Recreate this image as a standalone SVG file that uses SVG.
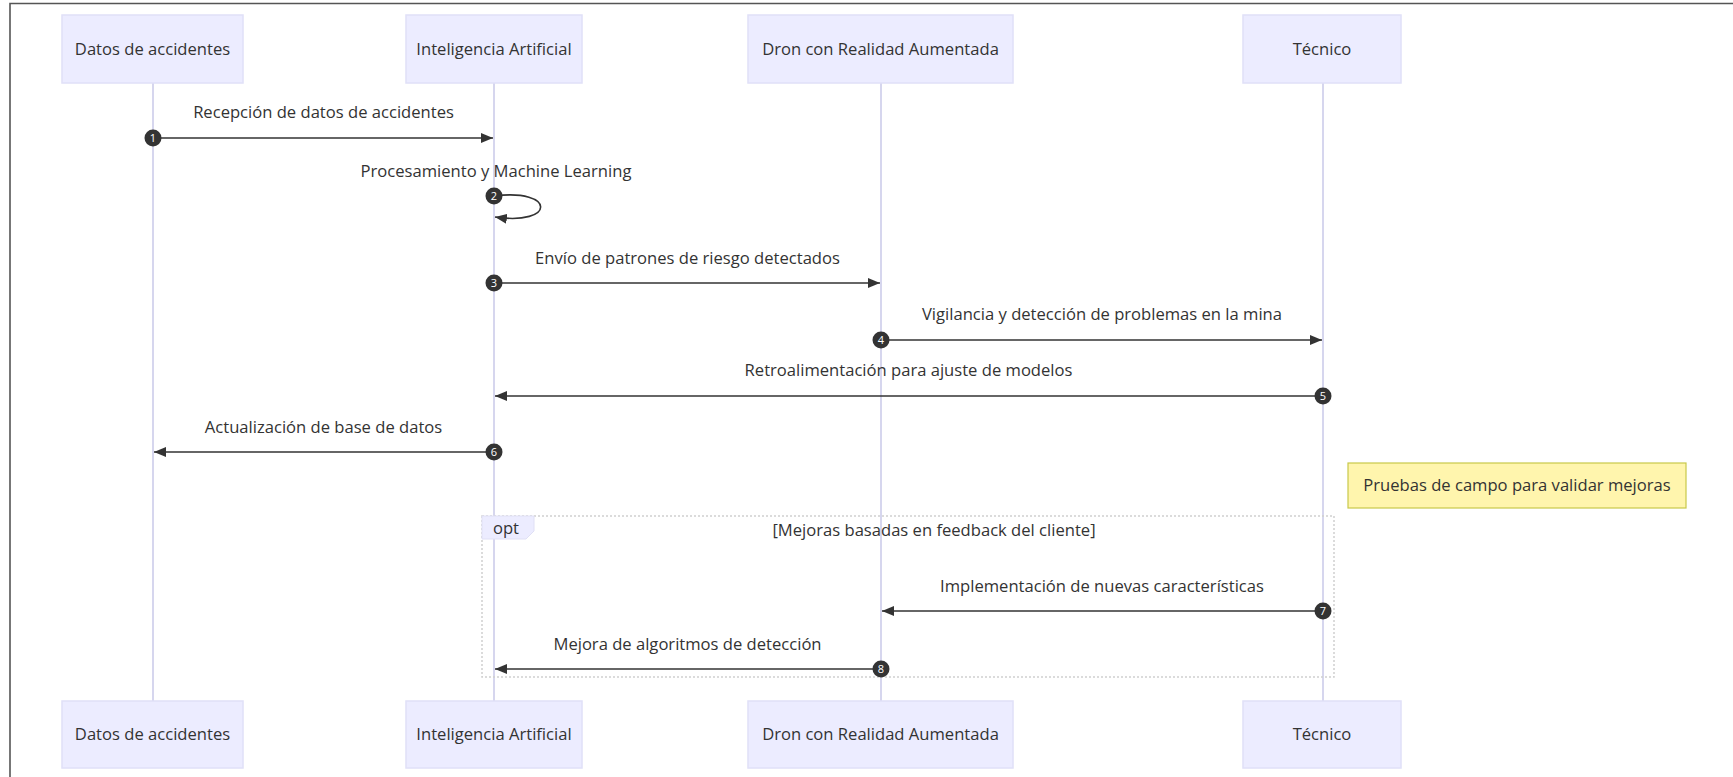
<svg xmlns="http://www.w3.org/2000/svg" width="1733" height="777" viewBox="0 0 1733 777">
<style>
.actor rect{fill:#ECECFF;stroke:#e0e0f8;stroke-width:1.5}
.actor text{font-family:"Open Sans","Noto Sans",sans-serif;font-size:16.6px;fill:#333;text-anchor:middle}
.life{stroke:#d6d6ee;stroke-width:2}
.msg{stroke:#333;stroke-width:1.6;fill:none}
.lbl{font-family:"Open Sans","Noto Sans",sans-serif;font-size:16.6px;fill:#333;text-anchor:middle}
.num circle{fill:#333}
.num text{font-family:"Open Sans","Noto Sans",sans-serif;font-size:11px;fill:#fff;text-anchor:middle}
</style>
<defs>
<marker id="ah" viewBox="0 0 12 10" refX="12" refY="5" markerWidth="12" markerHeight="10" markerUnits="userSpaceOnUse" orient="auto">
<path d="M0,0 L12,5 L0,10 z" fill="#333"/>
</marker>
</defs>
<rect width="1733" height="777" fill="#fff"/>
<path d="M10,778 V3.5 H1734" fill="none" stroke="#555" stroke-width="1.6"/>

<g id="lifelines">
<line class="life" x1="153" y1="83" x2="153" y2="701"/>
<line class="life" x1="494" y1="83" x2="494" y2="701"/>
<line class="life" x1="881" y1="83" x2="881" y2="701"/>
<line class="life" x1="1323" y1="83" x2="1323" y2="701"/>
</g>

<g id="actor-datos-top" class="actor"><rect x="62" y="15" width="181" height="68"/><text x="152.5" y="55">Datos de accidentes</text></g>
<g id="actor-ia-top" class="actor"><rect x="406" y="15" width="176" height="68"/><text x="494" y="55">Inteligencia Artificial</text></g>
<g id="actor-dron-top" class="actor"><rect x="748" y="15" width="265" height="68"/><text x="880.5" y="55">Dron con Realidad Aumentada</text></g>
<g id="actor-tecnico-top" class="actor"><rect x="1243" y="15" width="158" height="68"/><text x="1322" y="55">Técnico</text></g>

<g id="actor-datos-bottom" class="actor"><rect x="62" y="701" width="181" height="67"/><text x="152.5" y="740">Datos de accidentes</text></g>
<g id="actor-ia-bottom" class="actor"><rect x="406" y="701" width="176" height="67"/><text x="494" y="740">Inteligencia Artificial</text></g>
<g id="actor-dron-bottom" class="actor"><rect x="748" y="701" width="265" height="67"/><text x="880.5" y="740">Dron con Realidad Aumentada</text></g>
<g id="actor-tecnico-bottom" class="actor"><rect x="1243" y="701" width="158" height="67"/><text x="1322" y="740">Técnico</text></g>

<g id="note">
<rect x="1348" y="463" width="338" height="45" fill="#fff5ad" stroke="#c8c84a" stroke-width="1.2"/>
<text class="lbl" x="1517" y="491">Pruebas de campo para validar mejoras</text>
</g>

<g id="opt-fragment">
<rect x="482" y="516" width="852" height="161" fill="none" stroke="#d0d0d0" stroke-width="1.5" stroke-dasharray="2,2"/>
<polygon points="482,516 534,516 534,531 526,539 482,539" fill="#ECECFF" stroke="#e0e0f5" stroke-width="1"/>
<text class="lbl" x="506" y="534">opt</text>
<text class="lbl" x="934" y="536">[Mejoras basadas en feedback del cliente]</text>
</g>

<g id="connectors">
<text class="lbl" x="323.5" y="118">Recepción de datos de accidentes</text>
<line class="msg" x1="153" y1="138" x2="493" y2="138" marker-end="url(#ah)"/>

<text class="lbl" x="496" y="177">Procesamiento y Machine Learning</text>
<path class="msg" d="M494,196 C556,188 556,226 495,217" marker-end="url(#ah)"/>

<text class="lbl" x="687.5" y="264">Envío de patrones de riesgo detectados</text>
<line class="msg" x1="494" y1="283" x2="880" y2="283" marker-end="url(#ah)"/>

<text class="lbl" x="1102" y="320">Vigilancia y detección de problemas en la mina</text>
<line class="msg" x1="881" y1="340" x2="1322" y2="340" marker-end="url(#ah)"/>

<text class="lbl" x="908.5" y="376">Retroalimentación para ajuste de modelos</text>
<line class="msg" x1="1323" y1="396" x2="495" y2="396" marker-end="url(#ah)"/>

<text class="lbl" x="323.5" y="433">Actualización de base de datos</text>
<line class="msg" x1="494" y1="452" x2="154" y2="452" marker-end="url(#ah)"/>

<text class="lbl" x="1102" y="592">Implementación de nuevas características</text>
<line class="msg" x1="1323" y1="611" x2="882" y2="611" marker-end="url(#ah)"/>

<text class="lbl" x="687.5" y="650">Mejora de algoritmos de detección</text>
<line class="msg" x1="881" y1="669" x2="495" y2="669" marker-end="url(#ah)"/>

<g class="num"><circle cx="153" cy="138" r="8.5"/><text x="153" y="142">1</text></g>
<g class="num"><circle cx="494" cy="196" r="8.5"/><text x="494" y="200">2</text></g>
<g class="num"><circle cx="494" cy="283" r="8.5"/><text x="494" y="287">3</text></g>
<g class="num"><circle cx="881" cy="340" r="8.5"/><text x="881" y="344">4</text></g>
<g class="num"><circle cx="1323" cy="396" r="8.5"/><text x="1323" y="400">5</text></g>
<g class="num"><circle cx="494" cy="452" r="8.5"/><text x="494" y="456">6</text></g>
<g class="num"><circle cx="1323" cy="611" r="8.5"/><text x="1323" y="615">7</text></g>
<g class="num"><circle cx="881" cy="669" r="8.5"/><text x="881" y="673">8</text></g>
</g>
</svg>
